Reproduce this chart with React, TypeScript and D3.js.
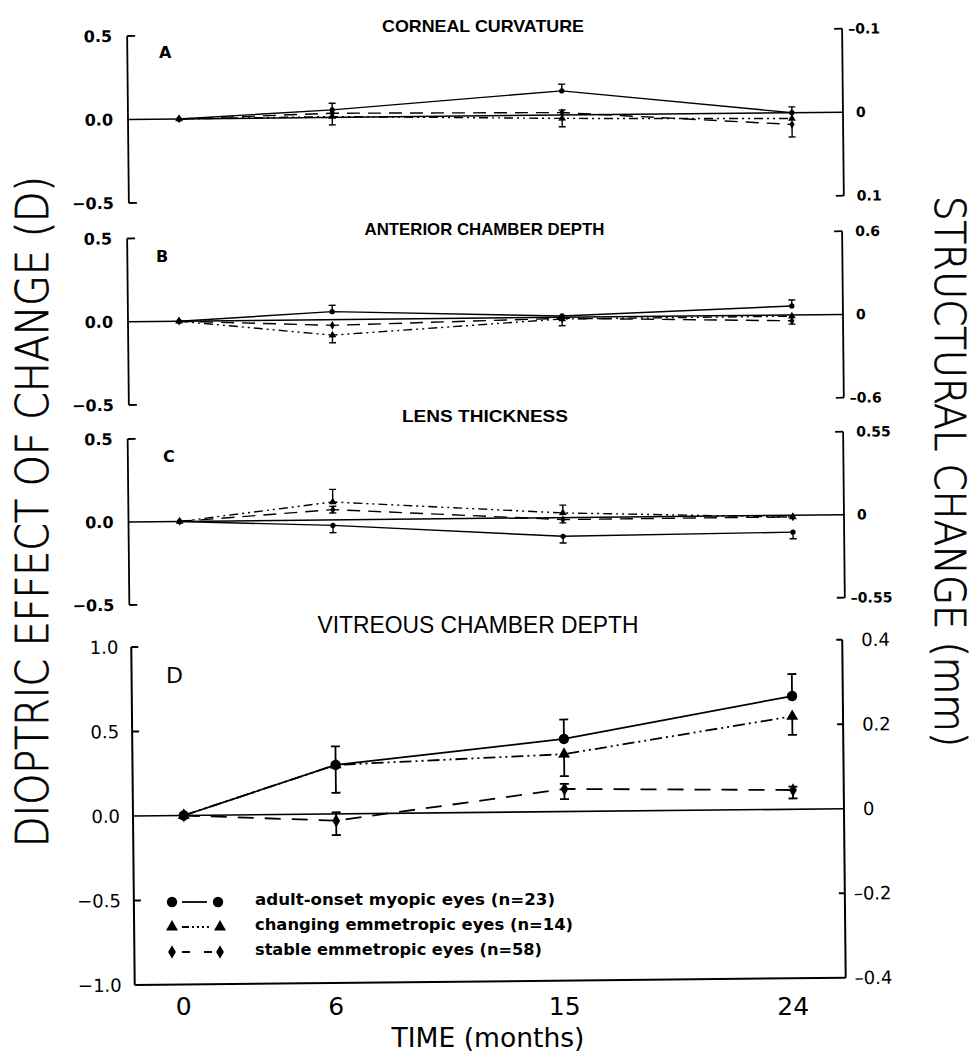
import React from 'react';
import * as d3 from 'd3';

// ---------------- DATA ----------------
const months = [0, 6, 15, 24];
const xTickLabels = ['0', '6', '15', '24'];

const seriesLabels = [
  'adult-onset myopic eyes (n=23)',
  'changing emmetropic eyes (n=14)',
  'stable emmetropic eyes (n=58)',
];

const panelTitles = ['CORNEAL CURVATURE', 'ANTERIOR CHAMBER DEPTH', 'LENS THICKNESS', 'VITREOUS CHAMBER DEPTH'];
const panelLetters = ['A', 'B', 'C', 'D'];

// A: corneal curvature (dioptric effect, D)
const cornealMyopic = [0, 0.045, 0.145, 0.0];
const cornealMyopicUp = [0, 0.04, 0.04, 0.035];
const cornealMyopicDown = [0, 0, 0, 0];
const cornealChanging = [0, 0.005, -0.02, -0.035];
const cornealChangingUp = [0, 0, 0.05, 0];
const cornealChangingDown = [0, 0.05, 0.05, 0];
const cornealStable = [0, 0.025, 0.015, -0.07];
const cornealStableUp = [0, 0, 0, 0];
const cornealStableDown = [0, 0, 0, 0.075];

// B: anterior chamber depth
const acdMyopic = [0, 0.048, 0.008, 0.054];
const acdMyopicUp = [0, 0.038, 0, 0.036];
const acdMyopicDown = [0, 0, 0, 0];
const acdChanging = [0, -0.093, -0.01, -0.007];
const acdChangingUp = [0, 0, 0, 0];
const acdChangingDown = [0, 0.046, 0.04, 0];
const acdStable = [0, -0.034, -0.006, -0.035];
const acdStableUp = [0, 0, 0, 0];
const acdStableDown = [0, 0, 0, 0.02];

// C: lens thickness
const lensMyopic = [0, -0.033, -0.113, -0.102];
const lensMyopicUp = [0, 0, 0, 0];
const lensMyopicDown = [0, 0.044, 0.04, 0.04];
const lensChanging = [0, 0.108, 0.028, -0.011];
const lensChangingUp = [0, 0.076, 0.047, 0];
const lensChangingDown = [0, 0, 0, 0];
const lensStable = [0, 0.062, -0.012, -0.01];
const lensStableUp = [0, 0.02, 0, 0];
const lensStableDown = [0, 0.02, 0.02, 0];

// D: vitreous chamber depth
const vcdMyopic = [0, 0.29, 0.43, 0.67];
const vcdMyopicUp = [0, 0.11, 0.115, 0.13];
const vcdMyopicDown = [0, 0, 0, 0];
const vcdChanging = [0, 0.29, 0.34, 0.55];
const vcdChangingUp = [0, 0, 0, 0];
const vcdChangingDown = [0, 0.165, 0.13, 0.11];
const vcdStable = [0, -0.04, 0.134, 0.114];
const vcdStableUp = [0, 0.05, 0.03, 0.02];
const vcdStableDown = [0, 0.085, 0.06, 0.05];

// axis ticks
const leftTicksSmall = [0.5, 0, -0.5];
const leftTickLabelsSmall = ['0.5', '0.0', '\u22120.5'];
const leftTicksD = [1, 0.5, 0, -0.5, -1];
const leftTickLabelsD = ['1.0', '0.5', '0.0', '\u22120.5', '\u22121.0'];

const rightTicksA = [-0.1, 0, 0.1];
const rightTickLabelsA = ['\u20130.1', '0', '0.1'];
const rightTicksB = [0.6, 0, -0.6];
const rightTickLabelsB = ['0.6', '0', '\u20130.6'];
const rightTicksC = [0.55, 0, -0.55];
const rightTickLabelsC = ['0.55', '0', '\u20130.55'];
const rightTicksD = [0.4, 0.2, 0, -0.2, -0.4];
const rightTickLabelsD = ['0.4', '0.2', '0', '\u20130.2', '\u20130.4'];

// ---------------- LAYOUT ----------------
const W = 973;
const H = 1054;
const TILT = -0.585;
const FONT = "'DejaVu Sans', Verdana, sans-serif";
const TFONT = "'Liberation Sans', Arial, sans-serif";

type Series = { y: number[]; up: number[]; down: number[] };

const panels = [
  {
    title: panelTitles[0], letter: panelLetters[0], big: false,
    left: 128, right: 843, top: 36, bottom: 203,
    yDomain: [-0.5, 0.5], rDomain: [0.1, -0.1],
    lTicks: leftTicksSmall, lLabels: leftTickLabelsSmall,
    rTicks: rightTicksA, rLabels: rightTickLabelsA,
    titleY: 32, titleX: 483, titleLen: 202, letterX: 159, letterY: 58,
    series: [
      { y: cornealMyopic, up: cornealMyopicUp, down: cornealMyopicDown },
      { y: cornealChanging, up: cornealChangingUp, down: cornealChangingDown },
      { y: cornealStable, up: cornealStableUp, down: cornealStableDown },
    ] as Series[],
  },
  {
    title: panelTitles[1], letter: panelLetters[1], big: false,
    left: 128, right: 843, top: 238.5, bottom: 405,
    yDomain: [-0.5, 0.5], rDomain: [-0.6, 0.6],
    lTicks: leftTicksSmall, lLabels: leftTickLabelsSmall,
    rTicks: rightTicksB, rLabels: rightTickLabelsB,
    titleY: 235, titleX: 484.5, titleLen: 240, letterX: 156, letterY: 262,
    series: [
      { y: acdMyopic, up: acdMyopicUp, down: acdMyopicDown },
      { y: acdChanging, up: acdChangingUp, down: acdChangingDown },
      { y: acdStable, up: acdStableUp, down: acdStableDown },
    ] as Series[],
  },
  {
    title: panelTitles[2], letter: panelLetters[2], big: false,
    left: 128.5, right: 844, top: 439, bottom: 605,
    yDomain: [-0.5, 0.5], rDomain: [-0.55, 0.55],
    lTicks: leftTicksSmall, lLabels: leftTickLabelsSmall,
    rTicks: rightTicksC, rLabels: rightTickLabelsC,
    titleY: 421.5, titleX: 485, titleLen: 166, letterX: 163, letterY: 462,
    series: [
      { y: lensMyopic, up: lensMyopicUp, down: lensMyopicDown },
      { y: lensChanging, up: lensChangingUp, down: lensChangingDown },
      { y: lensStable, up: lensStableUp, down: lensStableDown },
    ] as Series[],
  },
  {
    title: panelTitles[3], letter: panelLetters[3], big: true,
    left: 133, right: 844, top: 647, bottom: 985,
    yDomain: [-1, 1], rDomain: [-0.4, 0.4],
    lTicks: leftTicksD, lLabels: leftTickLabelsD,
    rTicks: rightTicksD, rLabels: rightTickLabelsD,
    titleY: 633, titleX: 478, titleLen: 321, letterX: 166, letterY: 683,
    series: [
      { y: vcdMyopic, up: vcdMyopicUp, down: vcdMyopicDown },
      { y: vcdChanging, up: vcdChangingUp, down: vcdChangingDown },
      { y: vcdStable, up: vcdStableUp, down: vcdStableDown },
    ] as Series[],
  },
];

const symbolTypes = [d3.symbolCircle, d3.symbolTriangle, d3.symbolDiamond];

function dashFor(i: number, big: boolean): string | undefined {
  if (i === 0) return undefined;
  if (i === 1) return big ? '12,4,2,4,2,4' : '9,4,2,4,2,4';
  return big ? '16,11' : '13,8';
}

function symbolPath(i: number, big: boolean): string {
  const sizesBig = [85, 62, 52];
  const sizesSmall = [22, 26, 22];
  return d3.symbol().type(symbolTypes[i]).size((big ? sizesBig : sizesSmall)[i])() as string;
}

function Panel({ p }: { p: (typeof panels)[number] }) {
  const x = d3.scaleLinear().domain([-2, 26]).range([p.left, p.right]);
  const y = d3.scaleLinear().domain(p.yDomain).range([p.bottom, p.top]);
  const yr = d3.scaleLinear().domain(p.rDomain).range([p.bottom, p.top]);
  const y0 = y(0);
  const axisW = p.big ? 2 : 1.8;
  const lineW = p.big ? 1.8 : 1.4;
  const cap = p.big ? 4.5 : 3.5;
  const tickLen = p.big ? 7 : 8;
  const lFont = p.big ? 18 : 16;
  const rFont = p.big ? 18 : 14;
  const weight = p.big ? 'normal' : 'bold';
  const line = d3
    .line<number>()
    .x((_, i) => x(months[i]))
    .y((d) => y(d));

  return (
    <g transform={`rotate(${TILT} ${p.left} ${y0})`}>
      <line x1={p.left} x2={p.left} y1={p.top} y2={p.bottom} stroke="#000" strokeWidth={axisW} />
      <line x1={p.right} x2={p.right} y1={yr(p.rDomain[1])} y2={yr(p.rDomain[0])} stroke="#000" strokeWidth={axisW} />
      {p.big && <line x1={p.left} x2={p.right} y1={p.bottom} y2={p.bottom} stroke="#000" strokeWidth={axisW} />}
      {p.lTicks.map((t, i) =>
        t !== 0 && !(p.big && t === p.yDomain[0]) ? (
          <line key={'lt' + i} x1={p.left} x2={p.left + tickLen} y1={y(t)} y2={y(t)} stroke="#000" strokeWidth={axisW} />
        ) : null
      )}
      {p.lTicks.map((t, i) => (
        <text key={'ll' + i} x={p.left - (p.big ? 13 : 15)} y={y(t)} dy="0.36em" textAnchor="end"
          fontFamily={FONT} fontSize={lFont} fontWeight={weight}>{p.lLabels[i]}</text>
      ))}
      {p.rTicks.map((t, i) =>
        t !== 0 && !(p.big && t === p.rDomain[0]) ? (
          <line key={'rt' + i} x1={p.right - (p.big ? 6 : 8)} x2={p.right} y1={yr(t)} y2={yr(t)} stroke="#000" strokeWidth={axisW} />
        ) : null
      )}
      {p.rTicks.map((t, i) => {
        const neg = p.rLabels[i].startsWith('\u2013');
        const base = p.right + (p.big ? 19 : 13);
        const shift = neg ? (p.big ? 10 : 7) : 0;
        return (
          <text key={'rl' + i} x={base - shift} y={yr(t)} dy="0.36em" textAnchor="start"
            fontFamily={FONT} fontSize={rFont} fontWeight={weight}>{p.rLabels[i]}</text>
        );
      })}
      <line x1={p.left} x2={p.right} y1={y0} y2={y0} stroke="#000" strokeWidth={p.big ? 1.6 : 1.5} />
      {p.series.map((s, si) => (
        <path key={'sl' + si} d={line(s.y) as string} fill="none" stroke="#000" strokeWidth={lineW}
          strokeDasharray={dashFor(si, p.big)} />
      ))}
      {p.series.map((s, si) =>
        s.y.map((v, i) => {
          const cx = x(months[i]);
          const out: JSX.Element[] = [];
          if (s.up[i] > 0) {
            const ye = y(v + s.up[i]);
            out.push(<line key={`u${si}${i}`} x1={cx} x2={cx} y1={y(v)} y2={ye} stroke="#000" strokeWidth={lineW} />);
            out.push(<line key={`uc${si}${i}`} x1={cx - cap} x2={cx + cap} y1={ye} y2={ye} stroke="#000" strokeWidth={lineW} />);
          }
          if (s.down[i] > 0) {
            const ye = y(v - s.down[i]);
            out.push(<line key={`d${si}${i}`} x1={cx} x2={cx} y1={y(v)} y2={ye} stroke="#000" strokeWidth={lineW} />);
            out.push(<line key={`dc${si}${i}`} x1={cx - cap} x2={cx + cap} y1={ye} y2={ye} stroke="#000" strokeWidth={lineW} />);
          }
          return <g key={`e${si}${i}`}>{out}</g>;
        })
      )}
      {p.series.map((s, si) =>
        s.y.map((v, i) => (
          <path key={`m${si}${i}`} d={symbolPath(si, p.big)} transform={`translate(${x(months[i])},${y(v)})`} fill="#000" />
        ))
      )}
    </g>
  );
}

export default function App() {
  const pD = panels[3];
  const xD = d3.scaleLinear().domain([-2, 26]).range([pD.left, pD.right]);
  const legendRows = [905, 930, 955];
  const legendLens = [300, 318, 287];
  const legendDash = [undefined, '7,3,2,3,2,3,2,3,2,20', '8,14'];
  return (
    <svg width={W} height={H} viewBox={`0 0 ${W} ${H}`}
      style={{ position: 'absolute', left: 0, top: 0, background: '#fff' }}>
      <rect x={0} y={0} width={W} height={H} fill="#fff" />
      {panels.map((p, i) => (
        <g key={'p' + i}>
          <Panel p={p} />
          <text x={p.titleX} y={p.titleY} textAnchor="middle" fontFamily={TFONT}
            fontSize={p.big ? 24 : 17} fontWeight={p.big ? 'normal' : 'bold'}
            textLength={p.titleLen} lengthAdjust="spacingAndGlyphs">{p.title}</text>
          <text x={p.letterX} y={p.letterY} fontFamily={FONT} fontSize={p.big ? 22 : 16}
            fontWeight={p.big ? 'normal' : 'bold'}>{p.letter}</text>
        </g>
      ))}

      {seriesLabels.map((lab, i) => {
        const yy = legendRows[i] - 3;
        const sym = symbolPath(i, true);
        return (
          <g key={'lg' + i}>
            <line x1={182} x2={i === 0 ? 207 : 213} y1={yy} y2={yy} stroke="#000" strokeWidth={1.8}
              strokeDasharray={legendDash[i]} />
            <path d={sym} transform={`translate(172,${yy})`} fill="#000" />
            <path d={sym} transform={`translate(${i === 0 ? 218 : 220},${yy})`} fill="#000" />
            <text x={255} y={legendRows[i]} fontFamily={FONT} fontSize={15} fontWeight="bold"
              textLength={legendLens[i]} lengthAdjust="spacingAndGlyphs">{lab}</text>
          </g>
        );
      })}

      {months.map((m, i) => (
        <text key={'xt' + i} x={xD(m)} y={1015} textAnchor="middle" fontFamily={FONT} fontSize={25}>
          {xTickLabels[i]}
        </text>
      ))}
      <text x={488} y={1047} textAnchor="middle" fontFamily={FONT} fontSize={26}
        textLength={193} lengthAdjust="spacingAndGlyphs">TIME (months)</text>

      <text transform="translate(48,511.5) rotate(-90)" textAnchor="middle" fontFamily={FONT}
        fontSize={44} fontWeight={300} stroke="#000" strokeWidth={0.7}
        textLength={671} lengthAdjust="spacingAndGlyphs">
        DIOPTRIC EFFECT OF CHANGE (D)
      </text>
      <text transform="translate(934.5,471.5) rotate(90)" textAnchor="middle" fontFamily={FONT}
        fontSize={42} fontWeight={300} stroke="#000" strokeWidth={0.7}
        textLength={551} lengthAdjust="spacingAndGlyphs">
        STRUCTURAL CHANGE (mm)
      </text>
    </svg>
  );
}
